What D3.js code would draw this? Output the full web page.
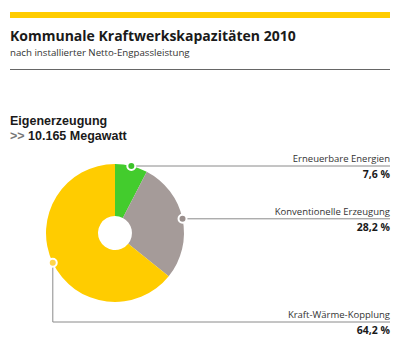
<!DOCTYPE html>
<html>
<head>
<meta charset="utf-8">
<script src="https://cdn.jsdelivr.net/npm/d3@7"></script>
<style>
  body { margin: 0; background: #fff; }
  svg text { font-family: "Open Sans", sans-serif; fill: #1a1a1a; }
  .title { font-size: 14px; font-weight: 700; }
  .subtitle { font-size: 9.7px; fill: #333; }
  .head { font-family: "Liberation Sans", Arial, sans-serif; font-size: 12.5px; font-weight: 700; }
  .label { font-size: 9.5px; fill: #333; }
  .value { font-size: 10.5px; font-weight: 700; }
  .leader { fill: none; stroke: #8a8a8a; stroke-width: 1; }
</style>
</head>
<body>
<svg width="400" height="350"></svg>
<script>
// chart data
const categories = ['Erneuerbare Energien', 'Konventionelle Erzeugung', 'Kraft-Wärme-Kopplung'];
const shares = [7.6, 28.2, 64.2];
const valueLabels = ['7,6 %', '28,2 %', '64,2 %'];
const sliceColors = ['#43cc2d', '#a59b99', '#ffcc00'];
const dotColors = ['#3cc22a', '#9a8f8d', '#ffd54a'];

const svg = d3.select('svg');

// header
svg.append('rect').attr('x', 10).attr('y', 12).attr('width', 380).attr('height', 6).attr('fill', '#ffcc00');
svg.append('text').attr('class', 'title').attr('x', 10).attr('y', 41).text('Kommunale Kraftwerkskapazitäten 2010');
svg.append('text').attr('class', 'subtitle').attr('x', 10).attr('y', 56).text('nach installierter Netto-Engpassleistung');
svg.append('line').attr('x1', 10).attr('x2', 390).attr('y1', 69.5).attr('y2', 69.5).attr('stroke', '#666').attr('stroke-width', 1);

svg.append('text').attr('class', 'head').attr('x', 10).attr('y', 125).text('Eigenerzeugung');
const sub = svg.append('text').attr('class', 'head').attr('x', 10).attr('y', 139.8);
sub.append('tspan').attr('fill', '#777').text('>> ');
sub.append('tspan').text('10.165 Megawatt');

// donut
const cx = 115, cy = 233;
const outerR = 69, innerR = 17;
const pie = d3.pie().sort(null).value(d => d.value);
const arcs = pie(categories.map((c, i) => ({ name: c, value: shares[i], i })));
const arc = d3.arc().innerRadius(innerR).outerRadius(outerR);

const g = svg.append('g').attr('transform', `translate(${cx},${cy})`);
g.selectAll('path.slice')
  .data(arcs)
  .enter()
  .append('path')
  .attr('class', 'slice')
  .attr('d', arc)
  .attr('fill', (d, i) => sliceColors[i]);

// dot on outer edge at the middle of each slice
const dotPos = arcs.map(d => {
  const a = (d.startAngle + d.endAngle) / 2;
  return [cx + Math.sin(a) * outerR, cy - Math.cos(a) * outerR];
});

// leader lines and labels
const rightX = 390;
const lineY = [dotPos[0][1], dotPos[1][1], 322];
arcs.forEach((d, i) => {
  const [px, py] = dotPos[i];
  let path;
  if (i < 2) {
    path = `M${px},${py.toFixed(1)}H${rightX}`;
  } else {
    path = `M${px.toFixed(1)},${py.toFixed(1)}V${lineY[i]}H${rightX}`;
  }
  svg.append('path').attr('class', 'leader').attr('d', path);
  svg.append('text').attr('class', 'label')
    .attr('x', rightX).attr('y', lineY[i] - 4)
    .attr('text-anchor', 'end').text(categories[i]);
  svg.append('text').attr('class', 'value')
    .attr('x', rightX).attr('y', lineY[i] + 12)
    .attr('text-anchor', 'end').text(valueLabels[i]);
});

svg.selectAll('circle.dot')
  .data(dotPos)
  .enter()
  .append('circle')
  .attr('class', 'dot')
  .attr('cx', d => d[0])
  .attr('cy', d => d[1])
  .attr('r', 4)
  .attr('fill', (d, i) => dotColors[i])
  .attr('stroke', '#fff')
  .attr('stroke-width', 2);
</script>
</body>
</html>
